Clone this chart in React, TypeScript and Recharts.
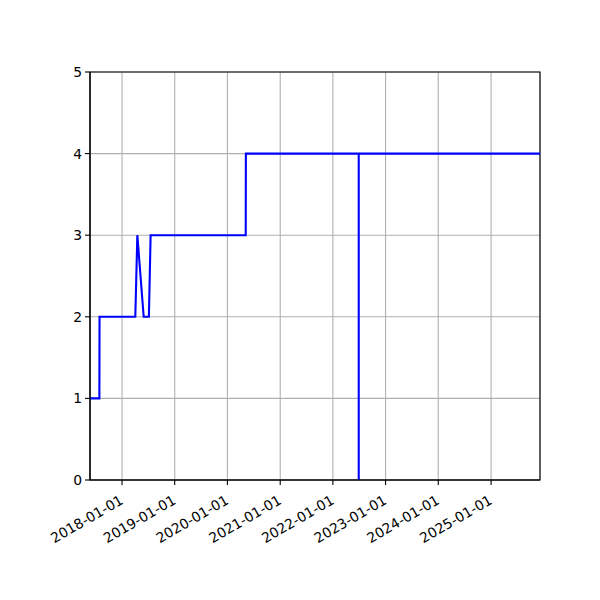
import React from "react";
import { LineChart, Line, XAxis, YAxis, CartesianGrid, ReferenceArea } from "recharts";

const dates: string[] = [
  "2017-05-24", "2017-07-28", "2017-07-29", "2018-04-03", "2018-04-17",
  "2018-05-31", "2018-07-06", "2018-07-18", "2020-05-07", "2020-05-08",
  "2022-06-29", "2022-06-29", "2022-06-29", "2025-12-06",
];
const values: number[] = [1, 1, 2, 2, 3, 2, 2, 3, 3, 4, 4, 0, 4, 4];
const xTickLabels: string[] = [
  "2018-01-01", "2019-01-01", "2020-01-01", "2021-01-01",
  "2022-01-01", "2023-01-01", "2024-01-01", "2025-01-01",
];
const yTicks: number[] = [0, 1, 2, 3, 4, 5];

const toTs = (s: string) => {
  const [y, m, d] = s.split("-").map(Number);
  return Date.UTC(y, m - 1, d);
};

const data = dates.map((d, i) => ({ t: toTs(d), v: values[i] }));
const xTicks = xTickLabels.map(toTs);
const xMin = toTs(dates[0]);
const xMax = toTs(dates[dates.length - 1]);

const fmt = (ts: number) => {
  const dt = new Date(ts);
  const p = (n: number) => String(n).padStart(2, "0");
  return `${dt.getUTCFullYear()}-${p(dt.getUTCMonth() + 1)}-${p(dt.getUTCDate())}`;
};

const FONT = "DejaVu Sans, sans-serif";
const FS = 13.9;

const XTick = (props: any) => {
  const { x, y, payload } = props;
  const ax = x - 3;
  const ay = y + 7;
  return (
    <text
      x={ax}
      y={ay}
      transform={`rotate(-30, ${ax}, ${ay})`}
      textAnchor="end"
      dominantBaseline="hanging"
      fontFamily={FONT}
      fontSize={FS}
      fill="#000"
    >
      {fmt(payload.value)}
    </text>
  );
};

const YTick = (props: any) => {
  const { x, y, payload } = props;
  return (
    <text
      x={x - 1}
      y={y}
      textAnchor="end"
      dominantBaseline="central"
      fontFamily={FONT}
      fontSize={FS}
      fill="#000"
    >
      {payload.value}
    </text>
  );
};

export default function App() {
  return (
    <div style={{ position: "absolute", left: 0, top: 0, width: 600, height: 600, background: "#fff" }}>
      <LineChart
        width={600}
        height={600}
        data={data}
        margin={{ top: 72, right: 60, left: 0, bottom: 0 }}
      >
        <CartesianGrid stroke="#b0b0b0" strokeWidth={1.1} />
        <XAxis
          dataKey="t"
          type="number"
          scale="time"
          domain={[xMin, xMax]}
          ticks={xTicks}
          interval={0}
          allowDataOverflow
          height={120}
          tick={<XTick />}
          tickLine={{ stroke: "#000", strokeWidth: 1.1 }}
          tickSize={5}
          axisLine={{ stroke: "#000", strokeWidth: 1.1 }}
        />
        <YAxis
          type="number"
          domain={[0, 5]}
          ticks={yTicks}
          interval={0}
          width={90}
          tick={<YTick />}
          tickLine={{ stroke: "#000", strokeWidth: 1.1 }}
          tickSize={5}
          axisLine={{ stroke: "#000", strokeWidth: 1.1 }}
        />
        <ReferenceArea
          x1={xMin}
          x2={xMax}
          y1={0}
          y2={5}
          fill="none"
          stroke="#000"
          strokeWidth={1.1}
          ifOverflow="visible"
        />
        <Line
          type="linear"
          dataKey="v"
          stroke="#0000ff"
          strokeWidth={2.1}
          dot={false}
          isAnimationActive={false}
        />
      </LineChart>
    </div>
  );
}
